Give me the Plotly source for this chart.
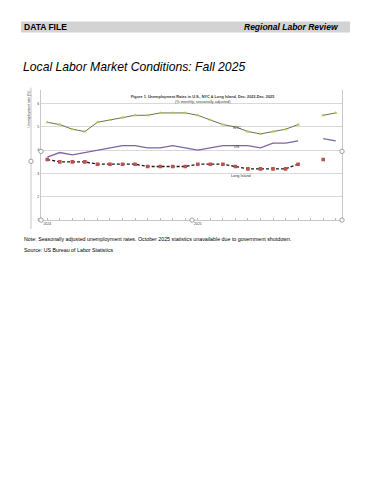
import plotly.graph_objects as go

# The page body has an 8px margin, so the figure is sized to fit inside it
OFF = 8
W, H = 371 - 2 * OFF, 480 - 2 * OFF

months = ["Jan 2024", "Feb 2024", "Mar 2024", "Apr 2024", "May 2024", "Jun 2024",
          "Jul 2024", "Aug 2024", "Sep 2024", "Oct 2024", "Nov 2024", "Dec 2024",
          "Jan 2025", "Feb 2025", "Mar 2025", "Apr 2025", "May 2025", "Jun 2025",
          "Jul 2025", "Aug 2025", "Sep 2025", "Oct 2025", "Nov 2025", "Dec 2025"]
nyc = [5.2, 5.1, 4.9, 4.8, 5.2, 5.3, 5.4, 5.5, 5.5, 5.6, 5.6, 5.6,
       5.5, 5.3, 5.1, 5.0, 4.8, 4.7, 4.8, 4.9, 5.1, None, 5.5, 5.6]
us = [3.7, 3.9, 3.8, 3.9, 4.0, 4.1, 4.2, 4.2, 4.1, 4.1, 4.2, 4.1,
      4.0, 4.1, 4.2, 4.2, 4.2, 4.1, 4.3, 4.3, 4.4, None, 4.5, 4.4]
long_island = [3.6, 3.5, 3.5, 3.5, 3.4, 3.4, 3.4, 3.4, 3.3, 3.3, 3.3, 3.3,
               3.4, 3.4, 3.4, 3.3, 3.2, 3.2, 3.2, 3.2, 3.4, None, 3.6, None]
year_ticks = {"Jan 2024": "2024", "Jan 2025": "2025"}
y_ticks = [1, 2, 3, 4, 5, 6]


def px(x):
    return (x - OFF) / W


def py(y):
    return 1 - (y - OFF) / H


fig = go.Figure()
fig.add_trace(go.Scatter(x=months, y=nyc, mode="lines+markers", name="NYC",
                         line=dict(color="#6f6f52", width=1),
                         marker=dict(symbol="triangle-up", size=3.5, color="#b3c85a")))
fig.add_trace(go.Scatter(x=months, y=us, mode="lines", name="US",
                         line=dict(color="#8064a2", width=1.3)))
fig.add_trace(go.Scatter(x=months, y=long_island, mode="lines+markers", name="Long Island",
                         line=dict(color="#1a1a1a", width=1.3, dash="3px,2px"),
                         marker=dict(symbol="square", size=3.6, color="#c0504d")))

fig.update_layout(
    width=W, height=H,
    margin=dict(l=0, r=0, t=0, b=0),
    paper_bgcolor="white", plot_bgcolor="white",
    showlegend=False,
    font=dict(family="Liberation Sans, Arial, sans-serif", color="#000000"),
    xaxis=dict(domain=[px(41), px(342)], type="category", categoryorder="array",
               categoryarray=months, range=[-0.5, len(months) - 0.5],
               tickvals=months, ticktext=[year_ticks.get(m, "") for m in months],
               ticks="inside", ticklen=2, tickcolor="#bbbbbb",
               tickfont=dict(size=3.5, color="#444444"),
               showgrid=False, showline=True, linecolor="#c8c8c8", linewidth=1,
               zeroline=False, fixedrange=True),
    yaxis=dict(domain=[py(221), py(90)], range=[1, 6.6],
               tickvals=y_ticks, ticktext=[str(v) for v in y_ticks],
               tickfont=dict(size=3.5, color="#444444"), ticks="",
               showgrid=True, gridcolor="#d9d9d9", gridwidth=1,
               showline=True, mirror=True, linecolor="#c8c8c8", linewidth=1,
               zeroline=False, fixedrange=True),
)

shapes = []
# header band
shapes.append(dict(type="rect", xref="paper", yref="paper", x0=px(21), x1=px(350),
                   y0=py(32.5), y1=py(21.5), fillcolor="#d3d3d3", line=dict(width=0), layer="below"))
# chart picture left border
shapes.append(dict(type="line", xref="paper", yref="paper", x0=px(31), x1=px(31),
                   y0=py(230), y1=py(88), line=dict(color="#c8c8c8", width=1)))
# selection handles
for hx, hy in [(41, 152), (41, 221), (192, 221), (342, 221), (342, 152), (31, 162)]:
    r = 2.2
    shapes.append(dict(type="circle", xref="paper", yref="paper",
                       x0=px(hx - r), x1=px(hx + r), y0=py(hy + r), y1=py(hy - r),
                       fillcolor="white", line=dict(color="#888888", width=0.8)))
fig.update_layout(shapes=shapes)

ann = []
ann.append(dict(text="<b>DATA FILE</b>", x=px(22), y=py(27), xref="paper", yref="paper",
                xanchor="left", yanchor="middle", showarrow=False, font=dict(size=8.5)))
ann.append(dict(text="<b><i>Regional Labor Review</i></b>", x=px(341), y=py(27), xref="paper",
                yref="paper", xanchor="right", yanchor="middle", showarrow=False,
                font=dict(size=8.5)))
ann.append(dict(text="<i>Local Labor Market Conditions: Fall 2025</i>", x=px(21), y=py(67.5),
                xref="paper", yref="paper", xanchor="left", yanchor="middle", showarrow=False,
                font=dict(size=12.2)))
ann.append(dict(text="<b>Figure 1. Unemployment Rates in U.S., NYC &amp; Long Island, Dec. 2023-Dec. 2025</b>",
                x=px(202), y=py(97.5), xref="paper", yref="paper", xanchor="center",
                yanchor="middle", showarrow=False, font=dict(size=3.8, color="#333333")))
ann.append(dict(text="(% monthly, seasonally adjusted)", x=px(203), y=py(102.5), xref="paper",
                yref="paper", xanchor="center", yanchor="middle", showarrow=False,
                font=dict(size=3.8, color="#444444")))
ann.append(dict(text="Unemployment rate (%)", x=px(29), y=py(110), xref="paper",
                yref="paper", xanchor="center", yanchor="middle", showarrow=False,
                textangle=-90, font=dict(size=3.5, color="#444444")))
ann.append(dict(text="NYC", x=px(237), y=py(125), xref="paper", yref="paper",
                showarrow=False, font=dict(size=3.8, color="#333333")))
ann.append(dict(text="US", x=px(237), y=py(144), xref="paper", yref="paper",
                showarrow=False, font=dict(size=3.8, color="#333333")))
ann.append(dict(text="Long Island", x=px(241), y=py(177), xref="paper", yref="paper",
                showarrow=False, font=dict(size=3.8, color="#333333")))
ann.append(dict(text="Note: Seasonally adjusted unemployment rates. October 2025 statistics unavailable due to government shutdown.",
                x=px(22), y=py(240), xref="paper", yref="paper", xanchor="left",
                yanchor="middle", showarrow=False, font=dict(size=5.3)))
ann.append(dict(text="Source: US Bureau of Labor Statistics", x=px(22), y=py(251),
                xref="paper", yref="paper", xanchor="left", yanchor="middle",
                showarrow=False, font=dict(size=5.3)))
fig.update_layout(annotations=ann)

fig.write_html("out.html", config=dict(displayModeBar=False))
